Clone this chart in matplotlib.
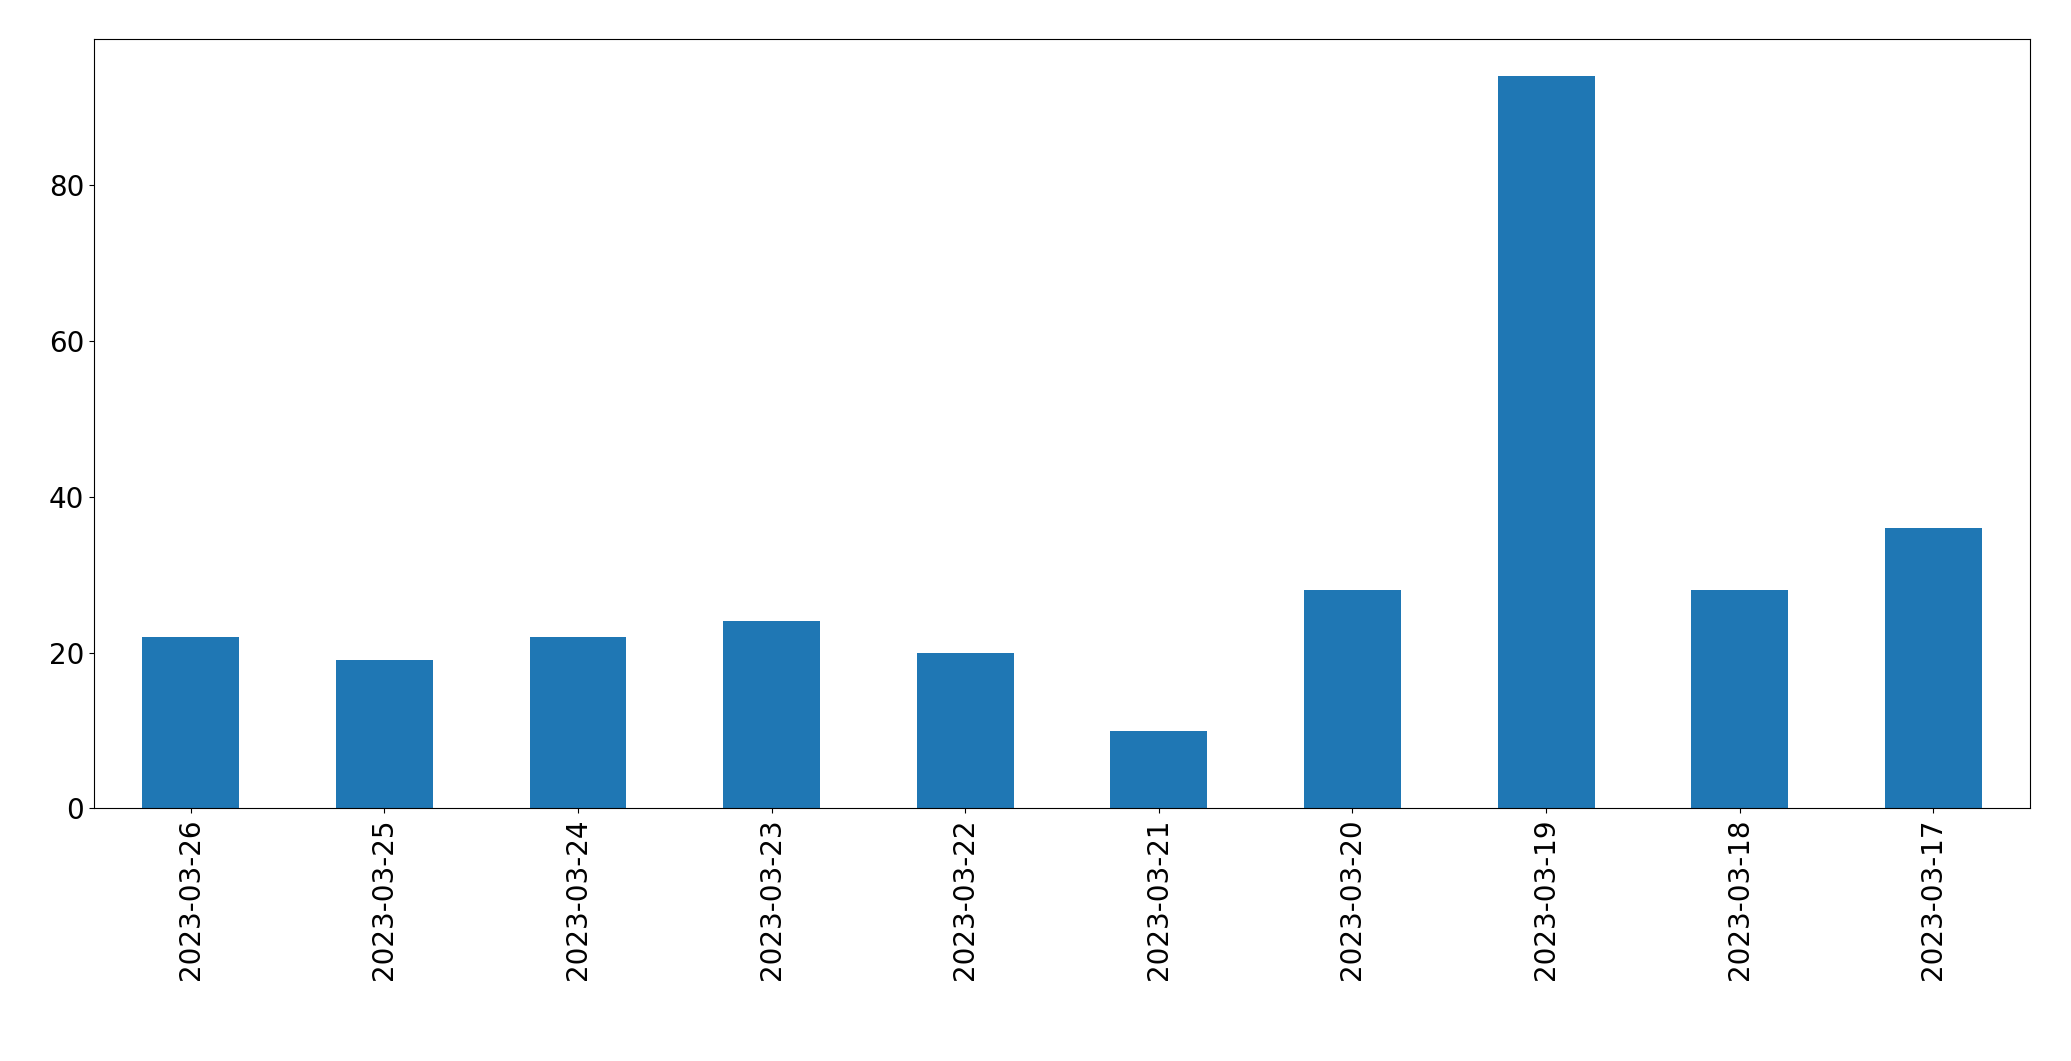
import matplotlib
matplotlib.use("Agg")
import matplotlib.pyplot as plt

dates = ["2023-03-26", "2023-03-25", "2023-03-24", "2023-03-23", "2023-03-22",
         "2023-03-21", "2023-03-20", "2023-03-19", "2023-03-18", "2023-03-17"]
counts = [22, 19, 22, 24, 20, 10, 28, 94, 28, 36]

fig = plt.figure(figsize=(20.71, 10.61), dpi=100)
ax = fig.add_axes([0.0453, 0.238, 0.935, 0.725])
x = range(len(dates))
ax.bar(x, counts, width=0.5, color="#1f77b4")
ax.set_xlim(-0.5, len(dates) - 0.5)
ax.set_ylim(0, max(counts) * 1.05)
ax.set_xticks(list(x))
ax.set_xticklabels(dates, rotation=90)
ax.tick_params(labelsize=20)
fig.savefig("out.png", dpi=100)
